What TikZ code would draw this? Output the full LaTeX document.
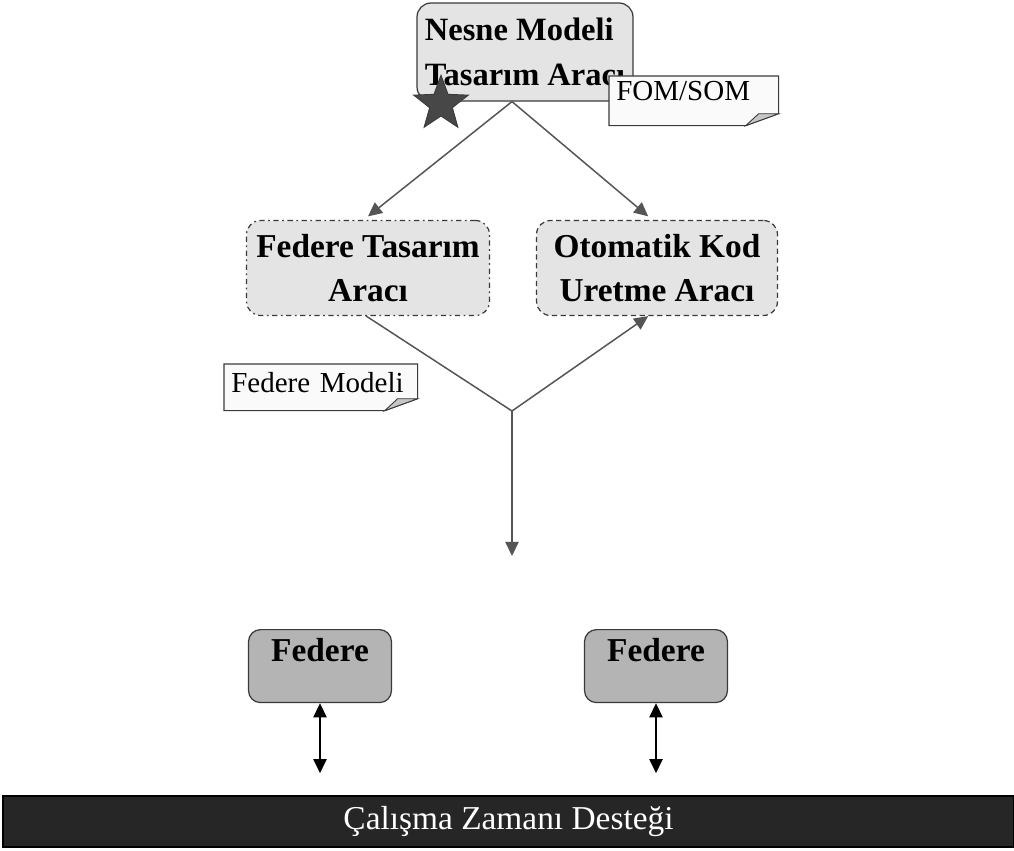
\documentclass[tikz,border=0pt]{standalone}
\usepackage{fontspec}
\setmainfont{Liberation Serif}
\usetikzlibrary{arrows.meta, shapes.geometric}

\definecolor{toolgray}{HTML}{E4E4E4}
\definecolor{fedgray}{HTML}{B4B4B4}
\definecolor{boxline}{HTML}{3A3A3A}
\definecolor{flowline}{HTML}{555555}
\definecolor{barblack}{HTML}{262626}
\definecolor{stargray}{HTML}{474747}

% outline of a note with a folded corner
\newcommand{\foldnote}[1]{%
  \draw[boxline, line width=0.6pt, fill=gray!4] (#1.north west) -- (#1.north east)
     -- ([yshift=0.24cm]#1.south east) -- ([xshift=-0.66cm]#1.south east)
     -- (#1.south west) -- cycle;
  \draw[boxline, line width=0.5pt, fill=gray!45] ([xshift=-0.66cm]#1.south east)
     -- ([xshift=-0.4cm,yshift=0.24cm]#1.south east) -- ([yshift=0.24cm]#1.south east) -- cycle;
}

\begin{document}
\begin{tikzpicture}[
        x = 0.02cm, y = -0.02cm,
        > = {Triangle[length=8pt, width=7.5pt]},
        toolbox/.style = {rectangle, rounded corners=0.28cm, draw=boxline, fill=toolgray,
                          line width=0.7pt, inner sep=0pt, align=center,
                          font=\fontsize{19}{25}\selectfont\bfseries},
        fedbox/.style = {rectangle, rounded corners=0.24cm, draw=boxline, fill=fedgray,
                         line width=0.7pt, anchor=north, inner xsep=0pt, inner ysep=0.24cm,
                         minimum width=2.86cm, text height=0.4cm, text depth=0.58cm,
                         font=\fontsize{19}{25}\selectfont\bfseries},
        memo/.style = {anchor=north west, inner xsep=0.14cm, inner ysep=0.1cm, align=left,
                       font=\fontsize{16.5}{20}\selectfont},
        flow/.style = {draw=flowline, line width=0.85pt},
        dbl/.style = {draw=black, line width=0.85pt, <->}
    ]
    \useasboundingbox (0,0) rectangle (1014,851);

    % top tool
    \node[toolbox, align=left, minimum width=4.32cm, minimum height=1.96cm,
          font=\fontsize{18.5}{25.5}\selectfont\bfseries] (nesne) at (525,52) {Nesne Modeli\\Tasarım Aracı};
    \node[star, star points=5, star point ratio=2.4, minimum size=1.15cm, inner sep=0pt,
          fill=stargray, draw=boxline, line width=0.5pt] (mark) at (441,104) {};

    % note on top tool
    \node[memo, text width=3.1cm, text height=0.38cm, text depth=0.4cm] (fomnote) at (609,76) {};
    \foldnote{fomnote}
    \node[memo, text width=3.1cm, text height=0.38cm, text depth=0.4cm] (fomtext) at (609,76) {FOM/SOM};

    % second row tools
    \node[toolbox, dash pattern=on 3pt off 2pt on 1pt off 2pt, minimum width=4.86cm,
          minimum height=1.9cm] (fedtool) at (368,268) {Federe Tasarım\\Aracı};
    \node[toolbox, dash pattern=on 3pt off 2pt, minimum width=4.82cm,
          minimum height=1.9cm] (codetool) at (657,268) {Otomatik Kod\\Uretme Aracı};

    \coordinate (jn) at (512,411);
    \coordinate (outp) at (512,556);

    \draw[flow, ->] (nesne.south -| jn) -- ([yshift=2pt]fedtool.north);
    \draw[flow, ->] (nesne.south -| jn) -- ([xshift=-5pt,yshift=2pt]codetool.north);

    % federe model note
    \node[memo, text width=3.58cm, text height=0.46cm, text depth=0.26cm] (fmnote) at (224,364) {};
    \foldnote{fmnote}
    \node[memo, text width=3.58cm, text height=0.46cm, text depth=0.26cm] (fmtext) at (224,364) {Federe Modeli};

    \draw[flow] ([xshift=-1pt]fedtool.south) -- (jn);
    \draw[flow, ->] (jn) -- ([xshift=-5pt]codetool.south);
    \draw[flow, ->] (jn) -- (outp);

    % federates
    \node[fedbox] (fed1) at (320,629) {Federe};
    \node[fedbox] (fed2) at (656,629) {Federe};

    \coordinate (rt1) at ([yshift=-1.4cm]fed1.south);
    \coordinate (rt2) at ([yshift=-1.4cm]fed2.south);
    \draw[dbl] (fed1.south) -- (rt1);
    \draw[dbl] (fed2.south) -- (rt2);

    % runtime bar
    \node[rectangle, fill=barblack, draw=black, line width=0.8pt, minimum width=20.22cm,
          minimum height=1.02cm, inner sep=0pt, text=white,
          font=\fontsize{19}{22}\selectfont] (rti) at (508.5,821.5) {Çalışma Zamanı Desteği};
\end{tikzpicture}
\end{document}
